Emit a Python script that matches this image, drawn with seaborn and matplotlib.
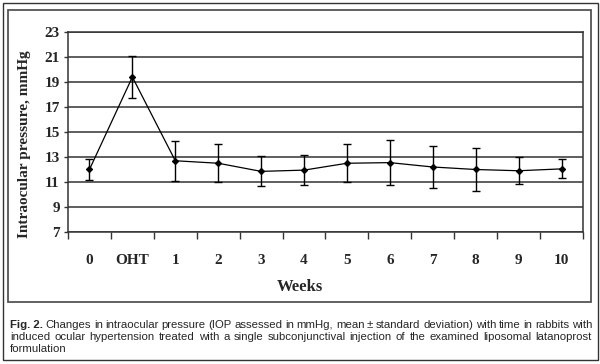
import matplotlib
matplotlib.use("Agg")
import matplotlib.pyplot as plt
import seaborn as sns
import pandas as pd
from matplotlib.patches import Rectangle

# values (mean +- SD, mmHg)
weeks = ["0", "OHT", "1", "2", "3", "4", "5", "6", "7", "8", "9", "10"]
iop_mean = [12.0, 19.4, 12.7, 12.5, 11.85, 11.95, 12.5, 12.55, 12.2, 12.0, 11.9, 12.05]
iop_sd = [0.85, 1.7, 1.6, 1.5, 1.2, 1.2, 1.5, 1.8, 1.7, 1.75, 1.1, 0.75]
yticks = [7, 9, 11, 13, 15, 17, 19, 21, 23]

caption_lines = [
    "Changes in intraocular pressure (IOP assessed in mmHg, mean \u00b1 standard deviation) with time in rabbits with",
    "induced ocular hypertension treated with a single subconjunctival injection of the examined liposomal latanoprost",
    "formulation",
]

df = pd.DataFrame({"pos": range(len(weeks)), "iop": iop_mean, "sd": iop_sd})

sns.set_theme(style="white")
plt.rcParams["font.family"] = ["Liberation Serif", "DejaVu Serif"]

W, H = 600, 364
fig = plt.figure(figsize=(W / 100, H / 100), dpi=100)
ax = fig.add_axes([68 / W, 1 - 232 / H, (583 - 68) / W, 200 / H])

ax.errorbar(df["pos"], df["iop"], yerr=df["sd"], fmt="none", ecolor="black",
            elinewidth=1, capsize=3, capthick=1, zorder=3)
sns.lineplot(data=df, x="pos", y="iop", ax=ax, color="black", linewidth=0.9,
             marker="D", markersize=3.2, markeredgecolor="black", zorder=4)

ax.set_xlim(-0.5, len(weeks) - 0.5)
ax.set_ylim(7, 23)
ax.set_yticks(yticks)
ax.set_yticklabels([str(v) for v in yticks], fontsize=11, fontweight="bold")
ax.set_xticks([i + 0.5 for i in range(-1, len(weeks))], minor=False)
ax.set_xticklabels([])
ax.set_xticks(range(len(weeks)), minor=True)
ax.set_xticklabels(weeks, minor=True, fontsize=11, fontweight="bold")
ax.tick_params(axis="x", which="major", direction="out", length=5, width=1, color="#333333", bottom=True)
ax.tick_params(axis="x", which="minor", length=0, pad=16)
ax.tick_params(axis="y", direction="out", length=3, width=1, color="#333333", left=True, pad=3)
ax.yaxis.grid(True, color="#333333", linewidth=1.1)
ax.set_axisbelow(True)
for s in ax.spines.values():
    s.set_color("#333333")
    s.set_linewidth(1.1)

ax.set_xlabel("Weeks", fontsize=12, fontweight="bold")
ax.set_ylabel("Intraocular pressure, mmHg", fontsize=11, fontweight="bold")
ax.xaxis.set_label_coords((300 - 68) / 515, -(279 - 232) / 200)
ax.yaxis.set_label_coords(-(68 - 31) / 515, (232 - 144) / 200)

# frames
def px_rect(x0, y0, x1, y1, lw, color):
    fig.patches.append(Rectangle((x0 / W, 1 - y1 / H), (x1 - x0) / W, (y1 - y0) / H,
                                 transform=fig.transFigure, fill=False,
                                 linewidth=lw, edgecolor=color))

px_rect(2.5, 3, 597.5, 360, 1.0, "#333333")
px_rect(8, 10, 591, 302, 1.3, "#555555")

# caption, justified by hand on the first two lines
fig.canvas.draw()
rend = fig.canvas.get_renderer()
cap_font = ["Liberation Sans", "DejaVu Sans"]
cap_size = 8.2
left, right = 10, 592
line_y = [325, 337, 349]

def width_px(t):
    return t.get_window_extent(renderer=rend).width

for li, line in enumerate(caption_lines):
    y = 1 - line_y[li] / H
    x = left
    if li == 0:
        b = fig.text(left / W, y, "Fig. 2.", fontsize=cap_size, fontweight="bold",
                     family=cap_font, va="center")
        x = left + width_px(b)
    words = line.split(" ")
    if li == len(caption_lines) - 1:
        fig.text(x / W, y, line, fontsize=cap_size, family=cap_font, va="center")
        continue
    texts = [fig.text(0, y, w, fontsize=cap_size, family=cap_font, va="center") for w in words]
    widths = [width_px(t) for t in texts]
    n_gaps = len(words) - (0 if li == 0 else 1)
    gap = (right - x - sum(widths)) / n_gaps
    if li == 0:
        x += gap
    for t, w in zip(texts, widths):
        t.set_x(x / W)
        x += w + gap

fig.savefig("out.png", dpi=100)
